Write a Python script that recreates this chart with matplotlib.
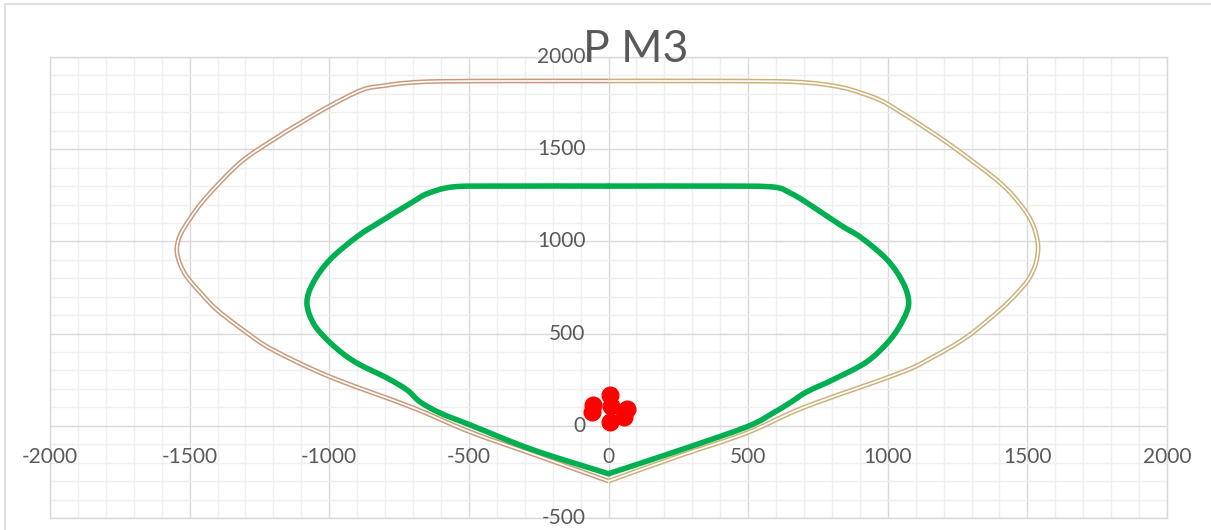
import numpy as np
import matplotlib.pyplot as plt
from matplotlib.path import Path
from matplotlib.patches import PathPatch, Rectangle

# outer envelope, left half (top -> bottom) and right half (top -> bottom)
outer_left_x = [0, -300, -600, -720, -800, -882, -1004, -1100, -1201, -1320, -1440, -1500, -1535, -1546, -1535, -1510, -1460, -1402, -1300, -1202, -998, -700, -496, -250, 0]
outer_left_y = [1870, 1870, 1868, 1860, 1845, 1822, 1730, 1645, 1551, 1426, 1240, 1120, 1030, 954, 880, 808, 720, 629, 510, 412, 266, 98, -33, -165, -300]
outer_right_x = [0, 300, 600, 720, 800, 870, 970, 1044, 1150, 1248, 1402, 1480, 1520, 1538, 1530, 1503, 1460, 1402, 1284, 1163, 1044, 700, 496, 250, 0]
outer_right_y = [1870, 1870, 1868, 1860, 1845, 1822, 1768, 1703, 1600, 1497, 1318, 1190, 1090, 980, 880, 792, 715, 629, 483, 374, 287, 100, -38, -165, -300]

# inner (green) envelope
green_left_x = [0, -400, -560, -650, -700, -818, -901, -998, -1058, -1080, -1058, -1010, -950, -890, -794, -722, -675, -604, -496, -271, 0]
green_left_y = [1300, 1300, 1295, 1258, 1215, 1106, 1025, 900, 775, 667, 559, 470, 390, 331, 260, 195, 130, 70, 5, -130, -260]
green_right_x = [0, 400, 589, 650, 711, 829, 905, 998, 1055, 1075, 1055, 1008, 925, 804, 711, 650, 590, 496, 250, 0]
green_right_y = [1300, 1300, 1295, 1263, 1209, 1090, 1020, 900, 775, 667, 575, 466, 347, 250, 185, 125, 70, -5, -135, -260]

# load points
pts_x = [5, 10, -55, -60, 65, 55, 5]
pts_y = [165, 110, 115, 75, 90, 50, 20]

x_ticks = [-2000, -1500, -1000, -500, 0, 500, 1000, 1500, 2000]
y_ticks = [-500, 0, 500, 1000, 1500, 2000]

txt = '#595959'
plt.rcParams['font.family'] = ['Lato', 'DejaVu Sans']


def smooth_path(xs, ys):
    """ Excel-like smoothed line as cubic bezier through the points """
    p = np.column_stack([xs, ys]).astype(float)
    n = len(p)
    verts = [p[0]]
    codes = [Path.MOVETO]
    for i in range(n - 1):
        p0, p1, p2, p3 = p[max(i - 1, 0)], p[i], p[i + 1], p[min(i + 2, n - 1)]
        verts += [p1 + (p2 - p0) / 6, p2 - (p3 - p1) / 6, p2]
        codes += [Path.CURVE4] * 3
    return Path(verts, codes)


fig = plt.figure(figsize=(12.11, 5.30), dpi=100)
ax = fig.add_axes([50 / 1211, 12 / 530, 1117 / 1211, 461 / 530])
fig.patches.append(Rectangle((5 / 1211, -0.1), 1.2, 1.1 - 4 / 530, transform=fig.transFigure,
                             fill=False, edgecolor='#d9d9d9', lw=1.2))

ax.set_xlim(-2000, 2000)
ax.set_ylim(-500, 2000)
ax.set_xticks(x_ticks)
ax.set_yticks(y_ticks)
ax.set_xticks(np.arange(-2000, 2001, 100), minor=True)
ax.set_yticks(np.arange(-500, 2001, 100), minor=True)
ax.grid(True, which='minor', color='#efefef', lw=1.0, zorder=0)
ax.grid(True, which='major', color='#d9d9d9', lw=1.0, zorder=0.5)
ax.tick_params(which='both', length=0, labelbottom=False, labelleft=False)
for s in ax.spines.values():
    s.set_color('#d9d9d9')
    s.set_linewidth(1.0)
ax.set_axisbelow(True)

for v in x_ticks:
    ax.annotate(str(v), xy=(v, 0), xytext=(0, -22.3), textcoords='offset points',
                ha='center', va='center', fontsize=15, color=txt)
for v in y_ticks:
    ax.annotate(str(v), xy=(0, v), xytext=(-16.5, 0), textcoords='offset points',
                ha='right', va='center', fontsize=15, color=txt)

# double lines for the outer envelope
for xs, ys, c in [(outer_left_x, outer_left_y, '#c99a7c'), (outer_right_x, outer_right_y, '#cbb27c')]:
    ax.add_patch(PathPatch(smooth_path(xs, ys), fill=False, edgecolor=c, lw=3.4, zorder=2))
    ax.add_patch(PathPatch(smooth_path(xs, ys), fill=False, edgecolor='white', lw=1.2, zorder=2.1))

for xs, ys in [(green_left_x, green_left_y), (green_right_x, green_right_y)]:
    ax.add_patch(PathPatch(smooth_path(xs, ys), fill=False, edgecolor='#00b050', lw=4.0,
                           capstyle='round', joinstyle='round', zorder=3))

ax.plot(pts_x, pts_y, 'o', color='red', ms=12, mec='red', zorder=4)

fig.text(636 / 1211, (530 - 62) / 530, 'P M3', ha='center', va='baseline', fontsize=32, color=txt)

plt.savefig('out.png', dpi=100)
